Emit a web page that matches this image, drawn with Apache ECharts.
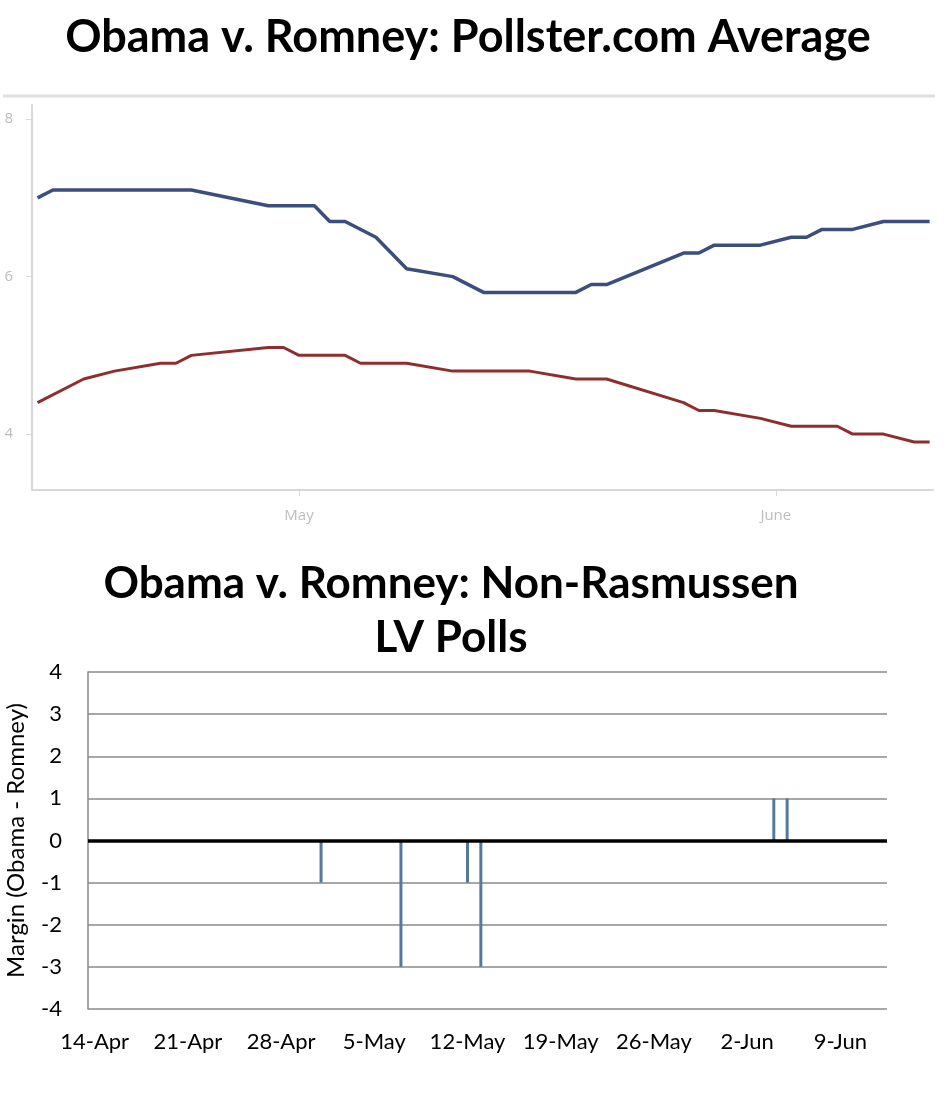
<!DOCTYPE html>
<html>
<head>
<meta charset="utf-8">
<script src="https://cdn.jsdelivr.net/npm/echarts@6/dist/echarts.min.js"></script>
<style>
  html, body { margin: 0; padding: 0; background: #fff; }
  #chart { width: 948px; height: 1100px; }
</style>
</head>
<body>
<div id="chart"></div>
<script>
// top chart: pollster averages (only the bend points of each line)
var obamaAvg = [
  ['2012-04-14', 7.0], ['2012-04-15', 7.1], ['2012-04-24', 7.1], ['2012-04-29', 6.9],
  ['2012-05-02', 6.9], ['2012-05-03', 6.7], ['2012-05-04', 6.7], ['2012-05-06', 6.5],
  ['2012-05-08', 6.1], ['2012-05-11', 6.0], ['2012-05-13', 5.8], ['2012-05-19', 5.8],
  ['2012-05-20', 5.9], ['2012-05-21', 5.9], ['2012-05-26', 6.3], ['2012-05-27', 6.3],
  ['2012-05-28', 6.4], ['2012-05-31', 6.4], ['2012-06-02', 6.5], ['2012-06-03', 6.5],
  ['2012-06-04', 6.6], ['2012-06-06', 6.6], ['2012-06-08', 6.7], ['2012-06-11', 6.7]
];
var romneyAvg = [
  ['2012-04-14', 4.4], ['2012-04-17', 4.7], ['2012-04-19', 4.8], ['2012-04-22', 4.9],
  ['2012-04-23', 4.9], ['2012-04-24', 5.0], ['2012-04-29', 5.1], ['2012-04-30', 5.1],
  ['2012-05-01', 5.0], ['2012-05-04', 5.0], ['2012-05-05', 4.9], ['2012-05-08', 4.9],
  ['2012-05-11', 4.8], ['2012-05-16', 4.8], ['2012-05-19', 4.7], ['2012-05-21', 4.7],
  ['2012-05-26', 4.4], ['2012-05-27', 4.3], ['2012-05-28', 4.3], ['2012-05-31', 4.2],
  ['2012-06-02', 4.1], ['2012-06-05', 4.1], ['2012-06-06', 4.0], ['2012-06-08', 4.0],
  ['2012-06-10', 3.9], ['2012-06-11', 3.9]
];
var topTicks = [4, 6, 8];
var monthTicks = ['2012-05-01', '2012-06-01'];
var monthNames = ['May', 'June'];

// bottom chart: non-Rasmussen LV polls, margin Obama - Romney
var pollDates = ['2012-04-30', '2012-05-01', '2012-05-07', '2012-05-12', '2012-05-13', '2012-06-04', '2012-06-05'];
var pollMargins = [0, -1, -3, -1, -3, 1, 1];
var weekTicks = ['2012-04-14', '2012-04-21', '2012-04-28', '2012-05-05', '2012-05-12',
                 '2012-05-19', '2012-05-26', '2012-06-02', '2012-06-09'];
var weekNames = ['14-Apr', '21-Apr', '28-Apr', '5-May', '12-May', '19-May', '26-May', '2-Jun', '9-Jun'];

// x positions are days counted from 14-Apr
var day0 = new Date('2012-04-14').getTime();
function day(s) {
  return Math.round((new Date(s).getTime() - day0) / 86400000);
}
function pts(arr) {
  return arr.map(function (p) { return [day(p[0]), p[1]]; });
}
var monthDays = monthTicks.map(day);
var weekDays = weekTicks.map(day);

var myChart = echarts.init(document.getElementById('chart'));
var option = {
  backgroundColor: '#fff',
  animation: false,
  title: [
    {
      text: 'Obama v. Romney: Pollster.com Average',
      left: 463, top: 6, textAlign: 'center',
      textStyle: { fontFamily: 'Lato', fontWeight: 'bold', fontSize: 45, color: '#000', lineHeight: 52 }
    },
    {
      text: 'Obama v. Romney: Non-Rasmussen\nLV Polls',
      left: 446, top: 552, textAlign: 'center',
      textStyle: { fontFamily: 'Lato', fontWeight: 'bold', fontSize: 44, color: '#000', lineHeight: 54 }
    }
  ],
  graphic: [
    { type: 'line', shape: { x1: 3, y1: 96, x2: 935, y2: 96 }, style: { stroke: '#e0e0e0', lineWidth: 3 } }
  ],
  grid: [
    { left: 32, right: 15, top: 105, height: 385, outerBoundsMode: 'none', containLabel: false },
    { left: 88, right: 61, top: 672, height: 337, outerBoundsMode: 'none', containLabel: false }
  ],
  xAxis: [
    {
      type: 'value', gridIndex: 0, min: -0.36, max: 58.22,
      splitLine: { show: false },
      axisLine: { onZero: false, lineStyle: { color: '#d8d8d8', width: 2 } },
      axisTick: { show: true, length: 6, customValues: monthDays, lineStyle: { color: '#d8d8d8' } },
      axisLabel: {
        customValues: monthDays, margin: 18,
        color: '#bdbdbd', fontSize: 15, fontFamily: 'Open Sans',
        formatter: function (v) {
          var i = monthDays.indexOf(v);
          return i >= 0 ? monthNames[i] : '';
        }
      }
    },
    {
      type: 'value', gridIndex: 1, min: -0.5, max: 59.5,
      splitLine: { show: false },
      axisLine: { show: false, onZero: false },
      axisTick: { show: false },
      axisLabel: {
        customValues: weekDays, margin: 22,
        color: '#000', fontSize: 22, fontFamily: 'Lato',
        formatter: function (v) {
          var i = weekDays.indexOf(v);
          return i >= 0 ? weekNames[i] : '';
        }
      }
    }
  ],
  yAxis: [
    {
      type: 'value', gridIndex: 0, min: 3.29, max: 8.18,
      splitLine: { show: false },
      axisLine: { show: true, onZero: false, lineStyle: { color: '#d8d8d8', width: 2 } },
      axisTick: { show: true, length: 6, customValues: topTicks, lineStyle: { color: '#d8d8d8' } },
      axisLabel: { customValues: topTicks, margin: 19, color: '#bdbdbd', fontSize: 15, fontFamily: 'Open Sans' }
    },
    {
      type: 'value', gridIndex: 1, min: -4, max: 4, interval: 1,
      name: 'Margin (Obama - Romney)', nameLocation: 'middle', nameRotate: 90, nameGap: 60,
      nameTextStyle: { fontFamily: 'Lato', fontSize: 24, color: '#000' },
      splitLine: { show: true, lineStyle: { color: '#8a8a8a', width: 1.5 } },
      axisLine: { show: true, onZero: false, lineStyle: { color: '#8a8a8a', width: 1.5 } },
      axisTick: { show: false },
      axisLabel: { margin: 26, color: '#000', fontSize: 22, fontFamily: 'Lato' }
    }
  ],
  series: [
    {
      name: 'Obama', type: 'line', xAxisIndex: 0, yAxisIndex: 0,
      data: pts(obamaAvg), showSymbol: false,
      lineStyle: { color: '#3b4e7d', width: 3.5 }, itemStyle: { color: '#3b4e7d' }
    },
    {
      name: 'Romney', type: 'line', xAxisIndex: 0, yAxisIndex: 0,
      data: pts(romneyAvg), showSymbol: false,
      lineStyle: { color: '#8f2e2e', width: 3 }, itemStyle: { color: '#8f2e2e' }
    },
    {
      name: 'Margin', type: 'bar', xAxisIndex: 1, yAxisIndex: 1,
      data: pollDates.map(function (d, i) { return [day(d), pollMargins[i]]; }),
      barWidth: 3,
      itemStyle: { color: '#55799c' },
      markLine: {
        silent: true, symbol: 'none', label: { show: false },
        lineStyle: { color: '#000', width: 3.5, type: 'solid' },
        data: [{ yAxis: 0 }]
      }
    }
  ]
};
myChart.setOption(option);
</script>
</body>
</html>
